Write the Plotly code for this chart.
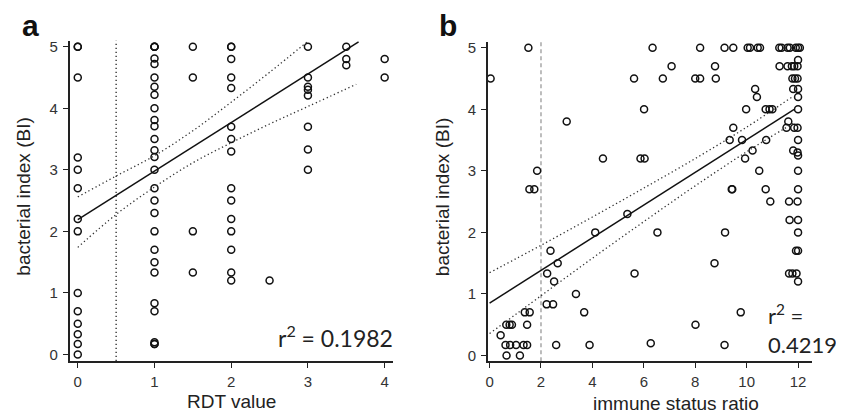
import plotly.graph_objects as go

# The page body has an 8px default margin; the figure is sized/placed to fill the 844x416 window.
OFF = 8
W, H = 844 - OFF, 416 - OFF

# ---------------- Panel a data: RDT value vs bacterial index ----------------
a_x = ([0] * 14 + [1] * 27 + [1.5] * 4 + [2] * 15 + [2.5] + [3] * 8 + [3.5] * 3 + [4] * 2)
a_y = ([5, 5, 4.5, 3.2, 3.0, 2.7, 2.2, 2.0, 1.0, 0.7, 0.5, 0.33, 0.17, 0.0]
       + [5, 5, 5, 4.81, 4.72, 4.5, 4.35, 4.22, 4.0, 3.81, 3.71, 3.5, 3.32, 3.21, 3.0,
          2.7, 2.5, 2.3, 2.0, 1.7, 1.5, 1.33, 0.83, 0.7, 0.2, 0.17, 0.17]
       + [5, 4.5, 2.0, 1.33]
       + [5, 5, 4.8, 4.5, 4.33, 3.7, 3.5, 3.3, 2.7, 2.5, 2.2, 2.0, 1.7, 1.33, 1.2]
       + [1.2]
       + [5, 4.5, 4.35, 4.3, 4.21, 3.7, 3.33, 3.0]
       + [5, 4.8, 4.7]
       + [4.8, 4.5])

a_fit_x = [0, 3.66]
a_fit_y = [2.19, 5.08]
a_up_x = [0, 0.5, 1, 1.5, 2, 2.5, 3.0]
a_up_y = [2.56, 2.90, 3.23, 3.635, 4.10, 4.585, 5.09]
a_lo_x = [0, 0.5, 1, 1.5, 2, 2.5, 3.0, 3.63]
a_lo_y = [1.74, 2.275, 2.72, 3.115, 3.44, 3.745, 4.03, 4.39]
a_cutoff = 0.5
a_r2 = "0.1982"

# ---------------- Panel b data: immune status ratio vs bacterial index ----------------
b_x = [0.04, 1.51, 1.85, 1.55, 1.74, 3.0, 4.41, 5.62, 5.87, 6.03,
       0.43, 0.65, 0.78, 0.87, 0.66, 0.62, 0.8, 1.03, 1.18, 1.32, 1.46, 1.37, 1.56, 1.46,
       2.24, 2.37, 2.65, 2.51, 2.22, 2.47, 2.59, 3.36, 3.68, 3.89, 4.11, 5.36, 5.64,
       6.34, 8.19, 9.14, 9.48, 10.04, 10.13, 10.43, 10.52, 11.27, 11.36, 11.59, 11.68, 11.91, 12.0, 12.07,
       12.0,
       7.08, 8.77, 11.28, 11.59, 11.76, 11.85, 11.98,
       6.74, 8.0, 8.19, 8.8, 11.78, 11.88, 11.98,
       10.33, 11.81, 12.0,
       10.4, 12.0,
       6.01, 9.98, 10.74, 10.89, 11.0, 12.0,
       11.62,
       9.48, 11.55, 11.85, 11.98,
       9.34, 9.82, 10.76, 12.0,
       10.23, 11.81, 11.98,
       9.94, 12.0,
       10.49, 12.0,
       9.42, 9.44, 10.74, 12.0,
       10.92, 11.65, 11.98,
       11.67, 12.0,
       6.53, 9.16, 12.0,
       11.92, 12.0,
       8.75,
       11.65, 11.78, 11.94,
       12.0,
       9.77, 8.01, 6.27, 9.14]
b_y = [4.5, 5.0, 3.0, 2.7, 2.7, 3.8, 3.2, 4.5, 3.2, 3.2,
       0.33, 0.5, 0.5, 0.5, 0.0, 0.17, 0.17, 0.17, 0.0, 0.17, 0.17, 0.7, 0.7, 0.5,
       1.33, 1.7, 1.5, 1.2, 0.83, 0.83, 0.17, 1.0, 0.7, 0.17, 2.0, 2.3, 1.33,
       5, 5, 5, 5, 5, 5, 5, 5, 5, 5, 5, 5, 5, 5, 5,
       4.8,
       4.7, 4.7, 4.7, 4.7, 4.7, 4.7, 4.7,
       4.5, 4.5, 4.5, 4.5, 4.5, 4.5, 4.5,
       4.33, 4.33, 4.33,
       4.2, 4.2,
       4.0, 4.0, 4.0, 4.0, 4.0, 4.0,
       3.8,
       3.7, 3.7, 3.7, 3.7,
       3.5, 3.5, 3.5, 3.5,
       3.33, 3.33, 3.3,
       3.2, 3.25,
       3.0, 3.0,
       2.7, 2.7, 2.7, 2.7,
       2.5, 2.5, 2.5,
       2.2, 2.2,
       2.0, 2.0, 2.0,
       1.7, 1.7,
       1.5,
       1.33, 1.33, 1.33,
       1.2,
       0.7, 0.5, 0.2, 0.17]

b_fit_x = [0, 11.85]
b_fit_y = [0.85, 4.0]
b_up_x = [0, 2, 4, 6, 8, 10, 11.8]
b_up_y = [1.345, 1.79, 2.25, 2.72, 3.20, 3.71, 4.21]
b_lo_x = [0, 2, 4, 6, 8, 10, 11.8]
b_lo_y = [0.355, 0.97, 1.58, 2.175, 2.756, 3.31, 3.77]
b_cutoff = 2
b_r2 = "0.4219"

a_xticks = [0, 1, 2, 3, 4]
b_xticks = [0, 2, 4, 6, 8, 10, 12]
y_ticks = [0, 1, 2, 3, 4, 5]


def px(x):
    return (x - OFF) / W


def py(y):
    return 1 - (y - OFF) / H


marker = dict(symbol="circle-open", size=7, color="#111", line=dict(width=1.5, color="#111"))
fit_line = dict(color="#111", width=1.5)
band_line = dict(color="#333", width=1.3, dash="1.3px,2.7px")

fig = go.Figure()

# panel a
fig.add_trace(go.Scatter(x=a_x, y=a_y, mode="markers", marker=marker, cliponaxis=False,
                         xaxis="x", yaxis="y", showlegend=False))
fig.add_trace(go.Scatter(x=a_fit_x, y=a_fit_y, mode="lines", line=fit_line, xaxis="x", yaxis="y",
                         showlegend=False, cliponaxis=False))
fig.add_trace(go.Scatter(x=a_up_x, y=a_up_y, mode="lines", line=dict(band_line, shape="spline"),
                         xaxis="x", yaxis="y", showlegend=False, cliponaxis=False))
fig.add_trace(go.Scatter(x=a_lo_x, y=a_lo_y, mode="lines", line=dict(band_line, shape="spline"),
                         xaxis="x", yaxis="y", showlegend=False, cliponaxis=False))

# panel b
fig.add_trace(go.Scatter(x=b_x, y=b_y, mode="markers", marker=marker, cliponaxis=False,
                         xaxis="x2", yaxis="y2", showlegend=False))
fig.add_trace(go.Scatter(x=b_fit_x, y=b_fit_y, mode="lines", line=fit_line, xaxis="x2", yaxis="y2",
                         showlegend=False, cliponaxis=False))
fig.add_trace(go.Scatter(x=b_up_x, y=b_up_y, mode="lines", line=dict(band_line, shape="spline"),
                         xaxis="x2", yaxis="y2", showlegend=False, cliponaxis=False))
fig.add_trace(go.Scatter(x=b_lo_x, y=b_lo_y, mode="lines", line=dict(band_line, shape="spline"),
                         xaxis="x2", yaxis="y2", showlegend=False, cliponaxis=False))

# cutoff lines
fig.add_shape(type="line", xref="x", yref="y domain", x0=a_cutoff, x1=a_cutoff, y0=0, y1=1,
              line=dict(color="#222", width=1.3, dash="1.3px,2.7px"), layer="below")
fig.add_shape(type="line", xref="x2", yref="y2 domain", x0=b_cutoff, x1=b_cutoff, y0=0, y1=1,
              line=dict(color="#999", width=1.3, dash="4px,3px"), layer="below")

tickfont = dict(family="Liberation Sans, Arial, sans-serif", size=15, color="#333")
axis_common = dict(showline=True, linecolor="#222", linewidth=1.8, ticks="outside", ticklen=5,
                   tickwidth=1.4, tickcolor="#222", showgrid=False, zeroline=False,
                   tickfont=tickfont, fixedrange=True)

fig.update_layout(
    width=W, height=H, margin=dict(l=0, r=0, t=0, b=0),
    paper_bgcolor="white", plot_bgcolor="white",
    xaxis=dict(axis_common, domain=[px(67), px(391.7)], range=[-0.104, 4.113], anchor="y",
               tickvals=a_xticks, ticklabelstandoff=1),
    yaxis=dict(axis_common, domain=[py(362.3), py(38)], range=[-0.106, 5.10], anchor="x",
               tickvals=y_ticks, ticklabelstandoff=2),
    xaxis2=dict(axis_common, domain=[px(486.7), px(811.7)], range=[-0.062, 12.535], anchor="y2",
                tickvals=b_xticks, ticklabelstandoff=1),
    yaxis2=dict(axis_common, domain=[py(362.7), py(39)], range=[-0.096, 5.10], anchor="x2",
                tickvals=y_ticks, ticklabelstandoff=2),
)

title_font = dict(family="Liberation Sans, Arial, sans-serif", size=19, color="#222")
r2_font = dict(family="Lato, Open Sans, sans-serif", size=23, color="#222")
r2b_font = dict(family="Lato, Open Sans, sans-serif", size=22, color="#222")
letter_font = dict(family="Liberation Sans, Arial, sans-serif", size=30, color="#111")

annotations = [
    dict(text="<b>a</b>", x=px(17), y=py(23), xanchor="left", yanchor="middle", font=letter_font),
    dict(text="<b>b</b>", x=px(436), y=py(23), xanchor="left", yanchor="middle", font=letter_font),
    dict(text="bacterial index (BI)", x=px(21), y=py(196), textangle=-90, xanchor="center",
         yanchor="middle", font=title_font),
    dict(text="bacterial index (BI)", x=px(441), y=py(196), textangle=-90, xanchor="center",
         yanchor="middle", font=title_font),
    dict(text="RDT value", x=px(229.5), y=py(403), xanchor="center", yanchor="middle", font=title_font),
    dict(text="immune status ratio", x=px(675), y=py(405), xanchor="center", yanchor="middle",
         font=title_font),
    dict(text="r<sup>2</sup> = " + a_r2, x=px(393), y=py(338), xanchor="right", yanchor="middle",
         font=r2_font),
    dict(text="r<sup>2</sup> =<br>" + b_r2, x=px(766), y=py(330), xanchor="left", yanchor="middle",
         align="left", font=r2b_font),
]
for an in annotations:
    an.update(xref="paper", yref="paper", showarrow=False)
fig.update_layout(annotations=annotations)

fig.write_html("out.html")
